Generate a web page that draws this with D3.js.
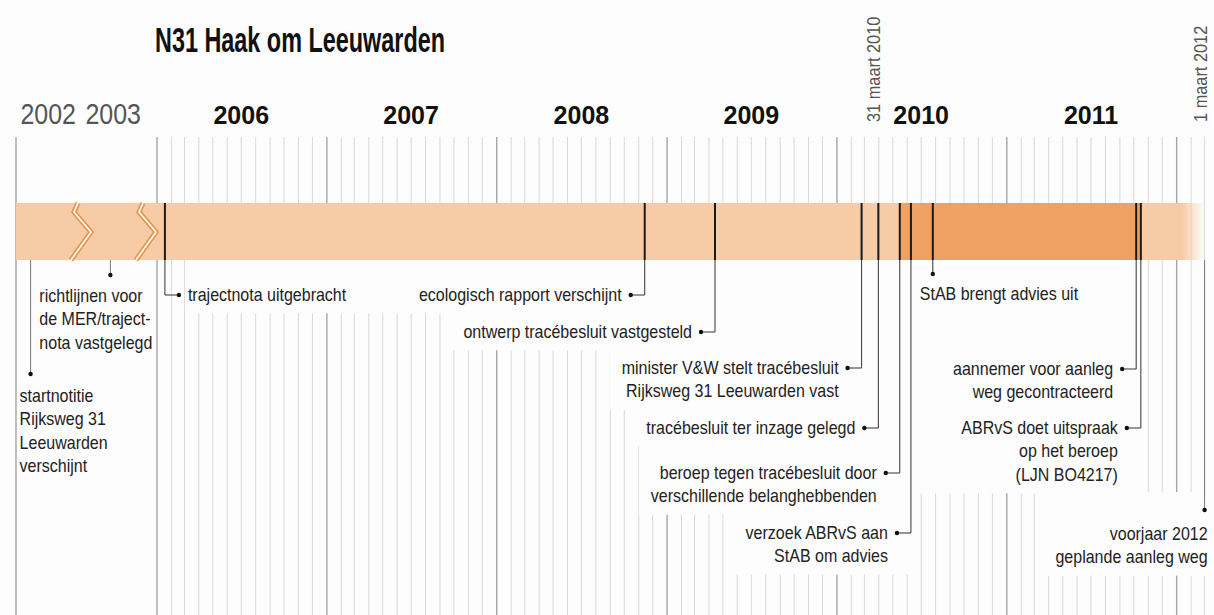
<!DOCTYPE html>
<html>
  <head>
    <meta charset="utf-8">
    <title>N31 Haak om Leeuwarden</title>
    <script src="https://cdn.jsdelivr.net/npm/d3@7"></script>
    <style>
      body { margin: 0; background: #fdfdfd; }
      svg text { font-family: "Liberation Sans", Arial, sans-serif; }
    </style>
  </head>
  <body>
    <script>
      var yearLabels  = ["2002", "2003", "2006", "2007", "2008", "2009", "2010", "2011"];
      var breakDates  = ["2003-01-01", "2004-01-01"];
      var periodDates = ["2010-05-16", "2011-10-16"];
      var markDates   = ["2010-03-31", "2012-03-01"];
      var markLabels  = ["31 maart 2010", "1 maart 2012"];

      var eventDates = [
        "2002-03-24", "2003-06-15", "2006-01-18", "2008-11-14", "2009-04-14",
        "2010-02-23", "2010-03-31", "2010-05-16", "2010-06-09", "2010-07-26",
        "2011-10-06", "2011-10-16", "2012-03-01"
      ];
      var eventLabels = [
        ["startnotitie", "Rijksweg 31", "Leeuwarden", "verschijnt"],
        ["richtlijnen voor", "de MER/traject-", "nota vastgelegd"],
        ["trajectnota uitgebracht"],
        ["ecologisch rapport verschijnt"],
        ["ontwerp tracébesluit vastgesteld"],
        ["minister V&W stelt tracébesluit", "Rijksweg 31 Leeuwarden vast"],
        ["tracébesluit ter inzage gelegd"],
        ["beroep tegen tracébesluit door", "verschillende belanghebbenden"],
        ["verzoek ABRvS aan", "StAB om advies"],
        ["StAB brengt advies uit"],
        ["aannemer voor aanleg", "weg gecontracteerd"],
        ["ABRvS doet uitspraak", "op het beroep", "(LJN BO4217)"],
        ["voorjaar 2012", "geplande aanleg weg"]
      ];

      // where each label sits (layout only)
      var labelLayout = [
        {kind: "drop",  y: 374, dx: -11, anchor: "start", ty: 28},
        {kind: "drop",  y: 275, dx: -71, anchor: "start", ty: 27},
        {kind: "elbow", y: 295, side: 1,  group: "a"},
        {kind: "elbow", y: 295, side: -1, group: "a"},
        {kind: "elbow", y: 332, side: -1, group: "d"},
        {kind: "elbow", y: 368, side: -1, group: "e"},
        {kind: "elbow", y: 428, side: -1, group: "f"},
        {kind: "elbow", y: 473, side: -1, group: "g"},
        {kind: "elbow", y: 533, side: -1, group: "h"},
        {kind: "drop",  y: 274, dx: -13, anchor: "start", ty: 26, group: "b"},
        {kind: "elbow", y: 369, side: -1, group: "b"},
        {kind: "elbow", y: 428, side: -1, group: "b"},
        {kind: "drop",  y: 510, dx: 3, anchor: "end", ty: 30, group: "c", top: true}
      ];

      var width = 1214, height = 615;
      var bandTop = 203, bandBottom = 260, gridTop = 137;
      var lineH = 23.5;
      var squeezeK = 0.89;
      var parse = d3.timeParse("%Y-%m-%d");

      // the original uses a condensed face: squeeze the glyphs horizontally
      function squeeze(sel, k, anchor) {
        sel.each(function() {
          var w = this.getComputedTextLength();
          var el = d3.select(this);
          var x0 = +el.attr("x") || 0;
          var nw = w * k;
          if (anchor === "end") x0 -= nw;
          else if (anchor === "middle") x0 -= nw / 2;
          el.attr("x", x0)
            .attr("text-anchor", "start")
            .attr("textLength", nw)
            .attr("lengthAdjust", "spacingAndGlyphs");
        });
      }

      var svg = d3.select("body").append("svg")
        .attr("width", width)
        .attr("height", height);

      // compressed 2002-2003, break, then 170px per year from 2006
      var x = d3.scaleTime()
        .domain([new Date(2002, 0, 1), new Date(2004, 0, 1), new Date(2006, 0, 1), new Date(2013, 0, 1)])
        .range([16, 146, 157, 157 + 170 * 7]);

      var gridG   = svg.append("g");
      var bandG   = svg.append("g");
      var maskG   = svg.append("g");
      var leaderG = svg.append("g");
      var textG   = svg.append("g");

      // title
      svg.append("text")
        .attr("x", 155)
        .attr("y", 52)
        .attr("font-size", 35)
        .attr("font-weight", "bold")
        .attr("fill", "#111")
        .attr("textLength", 290)
        .attr("lengthAdjust", "spacingAndGlyphs")
        .text("N31 Haak om Leeuwarden");

      // year labels
      var years = svg.selectAll(".year")
        .data(yearLabels)
        .enter().append("text")
          .attr("class", "year")
          .attr("x", function(d) { return x(new Date(+d, 6, 1)); })
          .attr("y", 124)
          .attr("text-anchor", "middle")
          .attr("font-size", function(d) { return +d < 2006 ? 29 : 25; })
          .attr("font-weight", function(d) { return +d < 2006 ? "normal" : "bold"; })
          .attr("fill", function(d) { return +d < 2006 ? "#555" : "#111"; })
          .text(function(d) { return d; });
      squeeze(years.filter(function(d) { return +d < 2006; }), 0.86, "middle");

      // rotated date marks
      var marks = svg.selectAll(".mark")
        .data(markDates)
        .enter().append("text")
          .attr("class", "mark")
          .attr("transform", function(d) { return "translate(" + (x(parse(d)) + 2) + ",122) rotate(-90)"; })
          .attr("font-size", 19)
          .attr("fill", "#555")
          .text(function(d, i) { return markLabels[i]; });
      squeeze(marks, 0.86, "start");

      // grid: months and years from 2006
      var months = d3.timeMonth.range(new Date(2006, 0, 1), new Date(2012, 3, 1));
      gridG.selectAll(".month")
        .data(months)
        .enter().append("line")
          .attr("x1", function(d) { return x(d); })
          .attr("x2", function(d) { return x(d); })
          .attr("y1", gridTop)
          .attr("y2", height)
          .attr("stroke", function(d) { return d.getMonth() === 0 ? "#a5a5a5" : "#d9d9d9"; })
          .attr("stroke-width", function(d) { return d.getMonth() === 0 ? 1.4 : 1; });

      gridG.append("line")
        .attr("x1", x(new Date(2002, 0, 1))).attr("x2", x(new Date(2002, 0, 1)))
        .attr("y1", gridTop).attr("y2", height)
        .attr("stroke", "#a5a5a5").attr("stroke-width", 1.4);

      // band
      var defs = svg.append("defs");
      var grad = defs.append("linearGradient")
        .attr("id", "fade")
        .attr("gradientUnits", "userSpaceOnUse")
        .attr("x1", x(new Date(2012, 0, 12))).attr("x2", x(new Date(2012, 2, 1)))
        .attr("y1", 0).attr("y2", 0);
      grad.append("stop").attr("offset", 0).attr("stop-color", "#f6cba5");
      grad.append("stop").attr("offset", 1).attr("stop-color", "#f6cba5").attr("stop-opacity", 0);

      bandG.append("rect")
        .attr("x", x(new Date(2002, 0, 1)))
        .attr("y", bandTop)
        .attr("width", x(new Date(2012, 2, 1)) - x(new Date(2002, 0, 1)))
        .attr("height", bandBottom - bandTop)
        .attr("fill", "url(#fade)");

      bandG.append("rect")
        .attr("x", x(parse(periodDates[0])))
        .attr("y", bandTop)
        .attr("width", x(parse(periodDates[1])) - x(parse(periodDates[0])))
        .attr("height", bandBottom - bandTop)
        .attr("fill", "#efa163");

      // zigzag breaks
      breakDates.forEach(function(d) {
        var cx = x(parse(d));
        var p = [[cx - 3, bandTop], [cx - 7, bandTop + 9], [cx + 10, bandTop + 29], [cx - 10, bandBottom]];
        var line = d3.line();
        bandG.append("path").attr("d", line(p))
          .attr("fill", "none").attr("stroke", "#e88f48").attr("stroke-width", 5);
        bandG.append("path").attr("d", line(p))
          .attr("fill", "none").attr("stroke", "#fff").attr("stroke-width", 1.8);
      });

      // events
      eventDates.forEach(function(d, i) {
        var date = parse(d);
        var ex = x(date);
        var lay = labelLayout[i];
        var lines = eventLabels[i];
        var inPast = date >= new Date(2006, 0, 1) && date < new Date(2012, 0, 1);

        if (inPast) {
          leaderG.append("line")
            .attr("x1", ex).attr("x2", ex)
            .attr("y1", bandTop).attr("y2", bandBottom)
            .attr("stroke", "#1a1a1a").attr("stroke-width", 2);
        }

        var dotX, dotY, tx, ty, anchor;
        if (lay.kind === "elbow") {
          dotX = ex + lay.side * 14;
          dotY = lay.y;
          tx = dotX + lay.side * 9;
          ty = lay.y + 6;
          anchor = lay.side > 0 ? "start" : "end";
          leaderG.append("path")
            .attr("d", "M" + ex + "," + bandBottom + "V" + dotY + "H" + dotX)
            .attr("fill", "none").attr("stroke", "#333").attr("stroke-width", 1);
        } else {
          dotX = ex;
          dotY = lay.y;
          tx = ex + lay.dx;
          ty = lay.y + lay.ty;
          anchor = lay.anchor;
          leaderG.append("line")
            .attr("x1", ex).attr("x2", ex)
            .attr("y1", bandBottom).attr("y2", dotY)
            .attr("stroke", inPast ? "#333" : "#777").attr("stroke-width", 1);
        }

        leaderG.append("circle")
          .attr("cx", dotX).attr("cy", dotY).attr("r", 2.2)
          .attr("fill", "#111");

        // label squeezed by a horizontal scale about its anchor point
        var t = textG.append("text")
          .attr("class", "label")
          .attr("data-i", i)
          .attr("data-ax", tx)
          .attr("text-anchor", anchor)
          .attr("font-size", 18)
          .attr("fill", "#222")
          .attr("transform", "translate(" + tx + ",0) scale(" + squeezeK + ",1) translate(" + (-tx) + ",0)");
        t.selectAll("tspan")
          .data(lines)
          .enter().append("tspan")
            .attr("x", tx)
            .attr("y", function(l, j) { return ty + j * lineH; })
            .text(function(l) { return l; });
      });

      // white boxes behind labels hide the grid
      var boxes = {};
      textG.selectAll(".label").each(function() {
        var i = +this.getAttribute("data-i");
        var lay = labelLayout[i];
        if (!lay.group) return;
        var ax = +this.getAttribute("data-ax");
        var bb = this.getBBox();
        var left = ax + (bb.x - ax) * squeezeK;
        var right = ax + (bb.x + bb.width - ax) * squeezeK;
        var ex = x(parse(eventDates[i]));
        var x0, x1;
        if (lay.kind === "elbow" && lay.side < 0) { x0 = left - 12; x1 = ex + 4; }
        else if (lay.kind === "elbow") { x0 = left - 3; x1 = right + 12; }
        else { x0 = left - 12; x1 = Math.min(width, right + 12); }
        var y0 = lay.top ? lay.y - 18 : bandBottom;
        var y1 = bb.y + bb.height + 8;
        var b = boxes[lay.group];
        if (!b) boxes[lay.group] = {x0: x0, x1: x1, y0: y0, y1: y1};
        else {
          b.x0 = Math.min(b.x0, x0); b.x1 = Math.max(b.x1, x1);
          b.y0 = Math.min(b.y0, y0); b.y1 = Math.max(b.y1, y1);
        }
      });

      maskG.selectAll("rect")
        .data(Object.values(boxes))
        .enter().append("rect")
          .attr("x", function(b) { return b.x0; })
          .attr("y", function(b) { return b.y0; })
          .attr("width", function(b) { return b.x1 - b.x0; })
          .attr("height", function(b) { return b.y1 - b.y0; })
          .attr("fill", "#fdfdfd");
    </script>
  </body>
</html>
